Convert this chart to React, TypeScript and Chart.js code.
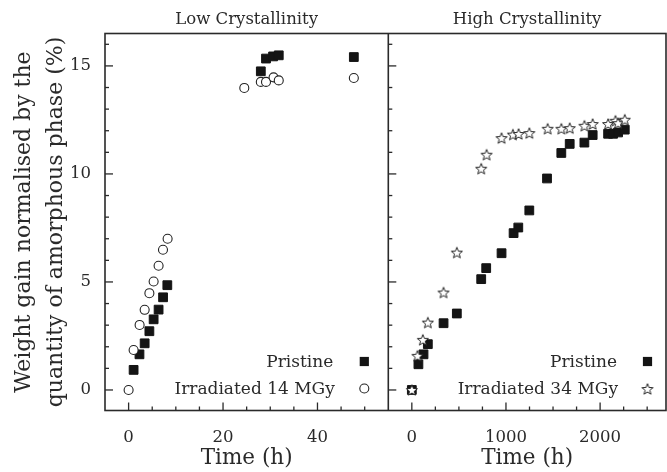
import React, { useEffect, useRef } from "react";
import { Chart, registerables } from "chart.js";

Chart.register(...registerables);

// Low crystallinity sample: time (h) and normalised weight gain (%)
const lowPristineTime = [1.06, 2.3, 3.4, 4.4, 5.3, 6.35, 7.3, 8.2, 28.0, 29.1, 30.6, 31.8, 47.7];
const lowPristineGain = [0.93, 1.65, 2.16, 2.72, 3.27, 3.72, 4.29, 4.85, 14.75, 15.34, 15.44, 15.49, 15.41];
const lowIrradiatedTime = [0, 1.06, 2.33, 3.4, 4.4, 5.3, 6.35, 7.28, 8.26, 24.5, 28.0, 29.1, 30.7, 31.8, 47.7];
const lowIrradiatedGain = [0, 1.85, 3.01, 3.71, 4.48, 5.02, 5.75, 6.49, 7.0, 13.98, 14.26, 14.26, 14.47, 14.33, 14.44];

// High crystallinity sample
const highPristineTime = [0, 70, 124, 170, 337, 478, 737, 790, 953, 1081, 1131, 1248, 1436, 1588, 1677, 1833, 1921, 2085, 2138, 2191, 2262];
const highPristineGain = [0, 1.19, 1.65, 2.12, 3.09, 3.54, 5.13, 5.64, 6.33, 7.26, 7.52, 8.31, 9.79, 10.97, 11.39, 11.45, 11.8, 11.86, 11.86, 11.92, 12.05];
const highIrradiatedTime = [0, 60, 117, 170, 337, 478, 737, 794, 953, 1074, 1134, 1248, 1443, 1588, 1677, 1833, 1921, 2085, 2163, 2191, 2262];
const highIrradiatedGain = [0, 1.58, 2.32, 3.12, 4.51, 6.36, 10.24, 10.89, 11.66, 11.82, 11.85, 11.89, 12.09, 12.09, 12.12, 12.23, 12.31, 12.31, 12.46, 12.35, 12.51];

// Axis labels
const gainTicks = [0, 5, 10, 15];
const lowTimeTicks = [0, 20, 40];
const highTimeTicks = [0, 1000, 2000];

const panelTitles = ["Low Crystallinity", "High Crystallinity"];
const lowLegend = ["Pristine", "Irradiated 14 MGy"];
const highLegend = ["Pristine", "Irradiated 34 MGy"];
const timeTitle = "Time (h)";
const gainTitle = ["Weight gain normalised by the", "quantity of amorphous phase (%)"];

const INK = "#2a2a2a";
const FONT = "DejaVu Serif";

function makeStar(outer: number, inner: number, lw: number) {
  const size = Math.ceil(outer * 2 + lw * 2 + 2);
  const c = document.createElement("canvas");
  c.width = size;
  c.height = size;
  const g = c.getContext("2d")!;
  const cx = size / 2;
  const cy = size / 2 + 0.5;
  g.beginPath();
  for (let i = 0; i < 10; i++) {
    const r = i % 2 === 0 ? outer : inner;
    const ang = -Math.PI / 2 + (i * Math.PI) / 5;
    const px = cx + r * Math.cos(ang);
    const py = cy + r * Math.sin(ang);
    if (i === 0) g.moveTo(px, py);
    else g.lineTo(px, py);
  }
  g.closePath();
  g.fillStyle = "#ffffff";
  g.fill();
  g.strokeStyle = "#222222";
  g.lineWidth = lw;
  g.stroke();
  return c;
}

const pairs = (xs: number[], ys: number[]) => xs.map((x, i) => ({ x, y: ys[i] }));

// keep the plot frame fixed: no extra room reserved for edge labels
const noPadding = (s: any) => {
  s.paddingLeft = 0;
  s.paddingRight = 0;
  s.paddingTop = 0;
  s.paddingBottom = 0;
};

export default function App() {
  const canvasRef = useRef<HTMLCanvasElement | null>(null);

  useEffect(() => {
    const canvas = canvasRef.current;
    if (!canvas) return;
    const star = makeStar(5.8, 2.5, 1);

    const drawSquare = (ctx: CanvasRenderingContext2D, x: number, y: number) => {
      ctx.fillStyle = "#141414";
      ctx.fillRect(x - 4.6, y - 4.6, 9.2, 9.2);
    };
    const drawCircle = (ctx: CanvasRenderingContext2D, x: number, y: number) => {
      ctx.beginPath();
      ctx.arc(x, y, 4.5, 0, Math.PI * 2);
      ctx.fillStyle = "#ffffff";
      ctx.fill();
      ctx.strokeStyle = "#222222";
      ctx.lineWidth = 1.1;
      ctx.stroke();
    };
    const drawStar = (ctx: CanvasRenderingContext2D, x: number, y: number) => {
      ctx.drawImage(star, x - star.width / 2, y - star.height / 2);
    };

    const framePlugin = {
      id: "frame",
      afterDatasetsDraw(chart: any) {
        const { ctx, chartArea: a, scales } = chart;
        const xL = scales.xL;
        const xR = scales.xR;
        const y = scales.y;
        ctx.save();
        ctx.strokeStyle = INK;
        ctx.lineWidth = 1.6;
        ctx.strokeRect(a.left, a.top, a.right - a.left, a.bottom - a.top);
        ctx.beginPath();
        ctx.moveTo(xL.right, a.top);
        ctx.lineTo(xL.right, a.bottom);
        ctx.stroke();

        ctx.lineWidth = 1.3;
        const seg = (x1: number, y1: number, x2: number, y2: number) => {
          ctx.beginPath();
          ctx.moveTo(x1, y1);
          ctx.lineTo(x2, y2);
          ctx.stroke();
        };
        // inward ticks on the left edge of each panel
        for (let v = 0; v <= 16; v++) {
          const py = y.getPixelForValue(v);
          const len = v % 5 === 0 ? 8 : 4;
          seg(xL.left, py, xL.left + len, py);
          seg(xR.left, py, xR.left + len, py);
        }
        // inward ticks on the bottom edge
        for (let v = 0; v <= 50; v += 5) {
          const px = xL.getPixelForValue(v);
          seg(px, a.bottom, px, a.bottom - (v % 20 === 0 ? 8 : 4));
        }
        for (let v = 0; v <= 2500; v += 250) {
          const px = xR.getPixelForValue(v);
          seg(px, a.bottom, px, a.bottom - (v % 1000 === 0 ? 8 : 4));
        }

        // panel titles
        ctx.fillStyle = INK;
        ctx.font = `16.5px "${FONT}"`;
        ctx.textAlign = "center";
        ctx.textBaseline = "middle";
        ctx.fillText(panelTitles[0], (xL.left + xL.right) / 2, 19.5);
        ctx.fillText(panelTitles[1], (xR.left + xR.right) / 2, 19.5);

        // in-plot legends
        ctx.font = `17px "${FONT}"`;
        ctx.textAlign = "right";
        const row1 = a.bottom - 47.5;
        const row2 = a.bottom - 20.5;
        ctx.fillText(lowLegend[0], xL.right - 55, row1);
        ctx.fillText(lowLegend[1], xL.right - 53.5, row2);
        drawSquare(ctx, xL.right - 24, row1 - 1.5);
        drawCircle(ctx, xL.right - 24, row2 - 1.5);
        ctx.fillStyle = INK;
        ctx.fillText(highLegend[0], xR.right - 49, row1);
        ctx.fillText(highLegend[1], xR.right - 48, row2);
        drawSquare(ctx, xR.right - 18.5, row1 - 1.5);
        drawStar(ctx, xR.right - 18.5, row2 - 1);
        ctx.restore();
      },
    };

    const tickFont = { family: FONT, size: 16.5 };
    const titleFont = { family: FONT, size: 21.5 };
    const plain = (v: any) => String(v);

    const chart = new Chart(canvas, {
      type: "scatter",
      data: {
        datasets: [
          {
            label: highLegend[1],
            data: pairs(highIrradiatedTime, highIrradiatedGain),
            xAxisID: "xR",
            yAxisID: "y",
            pointStyle: star as any,
            pointRadius: 6,
            order: 0,
          },
          {
            label: highLegend[0],
            data: pairs(highPristineTime, highPristineGain),
            xAxisID: "xR",
            yAxisID: "y",
            pointStyle: "rect",
            pointRadius: 6.2,
            backgroundColor: "#141414",
            borderColor: "#141414",
            borderWidth: 1,
            order: 1,
          },
          {
            label: lowLegend[1],
            data: pairs(lowIrradiatedTime, lowIrradiatedGain),
            xAxisID: "xL",
            yAxisID: "y",
            pointStyle: "circle",
            pointRadius: 4.5,
            backgroundColor: "#ffffff",
            borderColor: "#222222",
            borderWidth: 1.1,
            order: 2,
          },
          {
            label: lowLegend[0],
            data: pairs(lowPristineTime, lowPristineGain),
            xAxisID: "xL",
            yAxisID: "y",
            pointStyle: "rect",
            pointRadius: 6.2,
            backgroundColor: "#141414",
            borderColor: "#141414",
            borderWidth: 1,
            order: 3,
          },
        ],
      },
      options: {
        animation: false,
        responsive: false,
        events: [],
        layout: { autoPadding: false, padding: { top: 33.5, right: 1, left: 0, bottom: 0 } },
        plugins: { legend: { display: false }, tooltip: { enabled: false } },
        scales: {
          xL: {
            type: "linear",
            position: "bottom",
            stack: "time",
            stackWeight: 283.3,
            min: -5,
            max: 55,
            grid: { display: false },
            border: { display: false },
            afterBuildTicks: (s: any) => {
              s.ticks = lowTimeTicks.map((v) => ({ value: v }));
            },
            afterFit: (s: any) => {
              s.height = 61.5;
              noPadding(s);
            },
            ticks: { autoSkip: false, maxRotation: 0, padding: 9, color: INK, font: tickFont, callback: plain },
            title: { display: true, text: timeTitle, color: INK, font: titleFont, padding: { top: 0, bottom: 1 } },
          },
          xR: {
            type: "linear",
            position: "bottom",
            stack: "time",
            stackWeight: 277.7,
            min: -250,
            max: 2700,
            grid: { display: false },
            border: { display: false },
            afterBuildTicks: (s: any) => {
              s.ticks = highTimeTicks.map((v) => ({ value: v }));
            },
            afterFit: (s: any) => {
              s.height = 61.5;
              noPadding(s);
            },
            ticks: { autoSkip: false, maxRotation: 0, padding: 9, color: INK, font: tickFont, callback: plain },
            title: { display: true, text: timeTitle, color: INK, font: titleFont, padding: { top: 0, bottom: 1 } },
          },
          y: {
            type: "linear",
            position: "left",
            min: -0.95,
            max: 16.5,
            grid: { display: false },
            border: { display: false },
            afterBuildTicks: (s: any) => {
              s.ticks = gainTicks.map((v) => ({ value: v }));
            },
            afterFit: (s: any) => {
              s.width = 105;
              noPadding(s);
            },
            ticks: { autoSkip: false, padding: 6, color: INK, font: tickFont, callback: plain },
            title: {
              display: true,
              text: gainTitle,
              color: INK,
              font: { family: FONT, size: 22, lineHeight: 1.43 },
              padding: { top: 9, bottom: 0 },
            },
          },
        },
      },
      plugins: [framePlugin],
    });

    return () => chart.destroy();
  }, []);

  return (
    <div style={{ position: "fixed", left: 0, top: 0, width: 667, height: 472, background: "#ffffff" }}>
      <canvas ref={canvasRef} width={667} height={472} style={{ width: 667, height: 472, display: "block" }} />
    </div>
  );
}
